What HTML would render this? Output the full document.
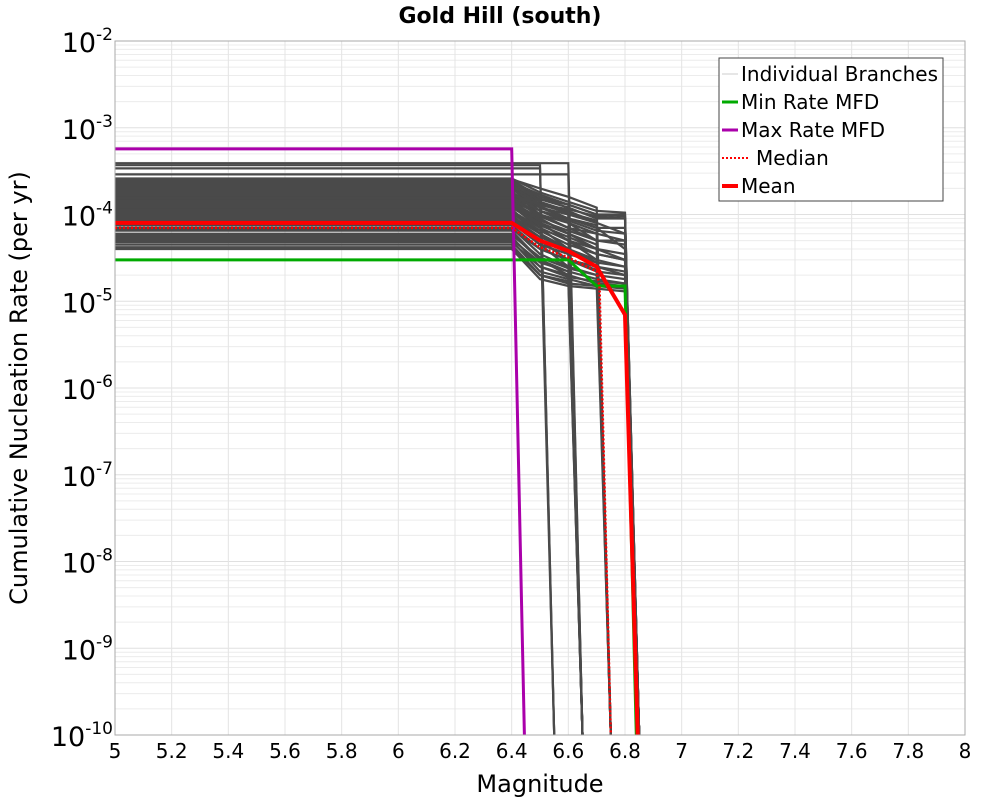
<!DOCTYPE html>
<html><head><meta charset="utf-8">
<style>
html,body{margin:0;padding:0;background:#fff;}
svg{display:block;font-family:"DejaVu Sans","Liberation Sans",sans-serif;}
</style></head>
<body>
<svg id="chart" width="1000" height="800" viewBox="0 0 1000 800">
<text x="500" y="23" text-anchor="middle" font-size="22" font-weight="bold">Gold Hill (south)</text>
<g id="grid"></g>
<g id="branches"></g>
<g id="series"></g>
<rect x="115" y="41" width="850" height="694" fill="none" stroke="#aaa" stroke-width="1"/>
<g id="xticks"></g>
<g id="yticks"></g>
<text x="540" y="792" text-anchor="middle" font-size="24">Magnitude</text>
<text transform="translate(27,388) rotate(-90)" text-anchor="middle" font-size="24">Cumulative Nucleation Rate (per yr)</text>
<g>
<rect x="719" y="58" width="224" height="143" fill="#fff" stroke="#444" stroke-width="1"/>
<line x1="722" y1="74" x2="738" y2="74" stroke="#ccc" stroke-width="1"/>
<text x="741" y="81" font-size="20">Individual Branches</text>
<line x1="722" y1="102" x2="738" y2="102" stroke="#0a0" stroke-width="3"/>
<text x="741" y="109" font-size="20">Min Rate MFD</text>
<line x1="722" y1="130" x2="738" y2="130" stroke="#a0a" stroke-width="3"/>
<text x="741" y="137" font-size="20">Max Rate MFD</text>
<line x1="722" y1="158" x2="750" y2="158" stroke="#f00" stroke-width="2" stroke-dasharray="2,2"/>
<text x="756" y="165" font-size="20">Median</text>
<line x1="722" y1="186" x2="738" y2="186" stroke="#f00" stroke-width="4"/>
<text x="741" y="193" font-size="20">Mean</text>
</g>
</svg>
<script>
const xTicks=[5,5.2,5.4,5.6,5.8,6,6.2,6.4,6.6,6.8,7,7.2,7.4,7.6,7.8,8];
const yExps=[-2,-3,-4,-5,-6,-7,-8,-9,-10];
const branchMags=[6.4,6.5,6.6,6.7,6.8];
const branchRates=[
[3.9e-4,3.9e-4,3.9e-4],[3.4e-4,3.4e-4],[2.9e-4,2.9e-4,2.9e-4],[3.7e-4,3.7e-4],
[2.5e-4,1.6e-4,1.3e-4,1.0e-4,1.0e-4],[2.4e-4,1.5e-4,1.2e-4,9e-5,9e-5],
[2.3e-4,1.3e-4,1.1e-4,8e-5],[2.2e-4,1.4e-4,1.0e-4],[2.1e-4,1.2e-4,9e-5,7e-5,7e-5],
[2.0e-4,1.1e-4,8e-5,6e-5],[1.9e-4,1.5e-4,1.3e-4],[1.85e-4,1.0e-4,7e-5,5e-5,5e-5],
[1.8e-4,1.2e-4,1.0e-4,8e-5,6e-5],[1.7e-4,9e-5,6e-5],[1.65e-4,1.1e-4,9e-5,7e-5,4e-5],
[1.6e-4,1.0e-4,8e-5,5e-5],[1.5e-4,8e-5,5e-5,4e-5,3.5e-5],[1.45e-4,1.0e-4,7e-5,6e-5,5e-5],
[1.4e-4,9e-5,6e-5,4.5e-5],[1.35e-4,1.35e-4],[1.3e-4,8e-5,6e-5,4e-5,3e-5],
[1.25e-4,7e-5,4e-5],[1.2e-4,8e-5,5e-5,3e-5,2.5e-5],[1.15e-4,6e-5,4e-5,3e-5],
[1.1e-4,7e-5,5e-5,3.5e-5,3e-5],[1.05e-4,6e-5,3.5e-5],[1.0e-4,5e-5,3e-5,2.5e-5,2.2e-5],
[9.5e-5,6e-5,4e-5,2.8e-5],[9e-5,5e-5,3e-5,2.5e-5,2e-5],[8.5e-5,4.5e-5,2.5e-5],
[7.5e-5,4e-5,3e-5,2.2e-5,2e-5],[7e-5,3.5e-5,2.5e-5,2e-5],[6.5e-5,3e-5,2.2e-5,1.8e-5,1.6e-5],
[6e-5,3e-5,2e-5],[5.5e-5,2.5e-5,2e-5,1.6e-5,1.5e-5],[5e-5,2.2e-5,1.8e-5,1.5e-5],
[4.5e-5,2e-5,1.6e-5,1.5e-5,1.4e-5],[4.2e-5,2e-5,1.7e-5],[4e-5,1.8e-5,1.5e-5,1.4e-5,1.3e-5],
[2.6e-4,1.8e-4,1.4e-4,1.1e-4,1.05e-4],[2.45e-4,1.4e-4,1.1e-4],[2.15e-4,1.3e-4,1.15e-4,9.5e-5,9e-5],
[1.95e-4,1.25e-4,9e-5,7.5e-5],[1.75e-4,1.1e-4,8.5e-5,6.5e-5,6e-5],[1.55e-4,9.5e-5,7e-5],
[1.38e-4,8.5e-5,6.5e-5,5e-5,4.5e-5],[1.22e-4,7.5e-5,5.5e-5,4e-5],[1.08e-4,6.5e-5,4.5e-5,3.5e-5,3e-5],
[9.2e-5,5.5e-5,4e-5],[8e-5,4.5e-5,3.5e-5,2.8e-5,2.5e-5],[6.8e-5,4e-5,3e-5,2.3e-5],
[5.8e-5,3.2e-5,2.4e-5,2e-5,1.8e-5],[5.2e-5,2.8e-5,2.2e-5],[4.8e-5,2.5e-5,1.9e-5,1.7e-5,1.6e-5],
[2.55e-4,2.0e-4,1.6e-4,1.2e-4],[2.35e-4,1.7e-4,1.3e-4,1.0e-4,9.5e-5],[1.68e-4,1.3e-4,1.05e-4,8.5e-5]
];
const minMags=[5,6.6,6.7,6.8,6.84];
const minRates=[3e-5,3e-5,1.5e-5,1.5e-5,1e-10];
const maxMags=[5,6.4,6.445];
const maxRates=[5.7e-4,5.7e-4,1e-10];
const meanMags=[5,6.4,6.5,6.6,6.7,6.8,6.845];
const meanRates=[8e-5,8e-5,5e-5,3.8e-5,2.5e-5,7e-6,1e-10];
const medMags=[5,6.4,6.5,6.6,6.7,6.71,6.75];
const medRates=[7e-5,7e-5,4.2e-5,3.2e-5,2.2e-5,1.5e-5,1e-10];

const X0=115,X1=965,Y0=41,Y1=735;
const NS="http://www.w3.org/2000/svg";
function xs(m){return X0+(m-5)/3*(X1-X0);}
function ys(v){return Y0+(-2-Math.log10(v))/8*(Y1-Y0);}
function mk(tag,attrs,parent){const e=document.createElementNS(NS,tag);for(const k in attrs)e.setAttribute(k,attrs[k]);parent.appendChild(e);return e;}
const grid=document.getElementById('grid');
for(let d=-10;d<-2;d++){for(let k=2;k<=9;k++){const y=ys(k*Math.pow(10,d));
const l=mk('line',{x1:X0,x2:X1,y1:y,y2:y,stroke:'#ececec','stroke-width':1},grid);

}}
yExps.forEach(e=>{const y=ys(Math.pow(10,e));
const l=mk('line',{x1:X0,x2:X1,y1:y,y2:y,stroke:'#e0e0e0','stroke-width':1},grid);

});
xTicks.forEach(t=>{const x=xs(t);
const l=mk('line',{x1:x,x2:x,y1:Y0,y2:Y1,stroke:'#e4e4e4','stroke-width':1},grid);


const tx=mk('text',{x:x,y:758,'text-anchor':'middle','font-size':20},document.getElementById('xticks'));
tx.textContent=String(t);

});
yExps.forEach(e=>{const y=ys(Math.pow(10,e));
const tx=mk('text',{x:113,y:y+11,'text-anchor':'end','font-size':27},document.getElementById('yticks'));
tx.innerHTML='10<tspan dy="-12" font-size="17">'+e+'</tspan>';

});
function path(ms,rs,g,attrs,name){let d='';ms.forEach((m,i)=>{d+=(i?'L':'M')+xs(m).toFixed(1)+','+ys(rs[i]).toFixed(1);});
const p=mk('path',Object.assign({d:d,fill:'none'},attrs),g);

}
const bg=document.getElementById('branches');
branchRates.forEach(r=>{const ms=[5],rs=[r[0]];r.forEach((v,i)=>{ms.push(branchMags[i]);rs.push(v);});
ms.push(branchMags[r.length-1]+0.05);rs.push(1e-10);
path(ms,rs,bg,{stroke:'#4a4a4a','stroke-width':2.2},'branch-line');});
const sg=document.getElementById('series');
path(minMags,minRates,sg,{stroke:'#0a0','stroke-width':3},'min-rate-line');
path(maxMags,maxRates,sg,{stroke:'#a0a','stroke-width':3},'max-rate-line');
path(medMags,medRates,sg,{stroke:'#f00','stroke-width':2.5,'stroke-dasharray':'2,2'},'median-line');
path(meanMags,meanRates,sg,{stroke:'#f00','stroke-width':4},'mean-line');
</script>
</body></html>
